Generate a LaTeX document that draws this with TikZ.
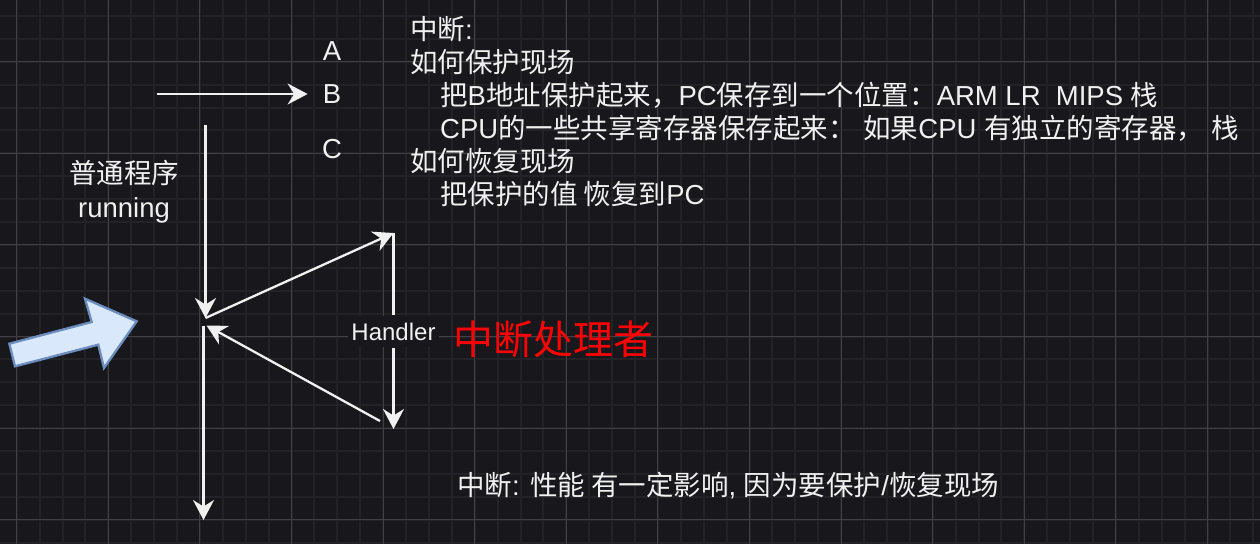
\documentclass[tikz,border=0pt]{standalone}
\usepackage{fontspec}
\setmainfont{Liberation Sans}
\newfontfamily\cjk{Noto Sans CJK SC}
\usetikzlibrary{
    arrows.meta
}
\definecolor{canvas}{HTML}{18171C}
\definecolor{ink}{HTML}{F0F0F0}
\definecolor{minorline}{HTML}{232227}
\definecolor{majorline}{HTML}{404044}
\definecolor{blockfill}{HTML}{DAE8FC}
\definecolor{blockline}{HTML}{6C8EBF}
\tikzset{
    % Grid
    minor grid/.style={draw=minorline, line width=2pt},
    major grid/.style={draw=majorline, line width=1pt},
    %
    % Nodes
    letter/.style={anchor=base, inner sep=0pt},
    note/.style={anchor=base west, inner sep=0pt},
    handler label/.style={fill=canvas, inner xsep=3pt, inner ysep=7pt, font=\fontsize{24}{28.8}\selectfont},
    red title/.style={anchor=base west, inner sep=0pt, text=red, font=\cjk\fontsize{40}{48}\selectfont},
    %
    % Arrows
    arrow tip/.tip={Stealth[length=20pt, width=21pt, inset=6.5pt]},
    arr/.style={->, >={arrow tip}, draw=ink, line width=2.3pt},
    block arrow/.style={fill=blockfill, draw=blockline, line width=2.3pt, line join=miter}
}
\tikzstyle{every node}=[font=\fontsize{27.5}{33}\selectfont, text=ink]

\begin{document}
\begin{tikzpicture}[x=1pt, y=-1pt]
        \useasboundingbox[fill=canvas] (0,0) rectangle (1260,544);
        % grid
        \foreach \i in {0,...,56} \draw[minor grid] ({-6.2+22.9*\i},0) -- +(0,544);
        \foreach \j in {0,...,24} \draw[minor grid] (0,{-7+22.9*\j}) -- +(1260,0);
        \foreach \i in {0,...,13} \draw[major grid] ({16.7+91.6*\i},0) -- +(0,544);
        \foreach \j in {0,...,5} \draw[major grid] (0,{61.7+91.6*\j}) -- +(1260,0);

        % program addresses
        \node[letter] (A) at (332,60) {A};
        \node[letter] (B) at (332,103) {B};
        \node[letter] (C) at (332,158) {C};
        \coordinate (jmp src) at (157,94);
        \draw[arr, shorten >=15pt] (jmp src) -- (jmp src -| B.west);

        \node[align=center, font=\fontsize{27.5}{34}\selectfont] (prog) at (124,192) {{\cjk 普通程序}\\running};

        % running -> handler -> back
        \coordinate (run top) at (205.5,125);
        \coordinate (irq) at (205.5,318);
        \coordinate (h top) at (393.5,233);
        \coordinate (h bot) at (393.5,429);
        \coordinate (ret src) at (380,421);
        \coordinate (ret dst) at (206.5,325.5);
        \coordinate (resume) at (203.5,326);
        \coordinate (run end) at (203.5,520);
        \draw[arr] (run top) -- (irq);
        \draw[arr] (irq) -- (h top);
        \node[handler label] (handler) at (393.5,331.5) {Handler};
        \draw[arr, -] (h top) -- (handler);
        \draw[arr] (handler) -- (h bot);
        \draw[arr] (ret src) -- (ret dst);
        \draw[arr] (resume) -- (run end);
        \node[red title] (handler cn) at (453,354) {中断处理者};

        % interrupt comes in
        \draw[block arrow] (9.3,343.7) -- (91.7,322) -- (85,298.7) -- (136.7,321.3) -- (104,368) -- (98.3,344.7) -- (15,366.3) -- cycle;

        % notes
        \node[note] (intr) at (410,39) {{\cjk 中断}:};
        \node[note] (save hdr) at (410,72) {{\cjk 如何保护现场}};
        \node[note] (save pc) at (440,105) {{\cjk 把}B{\cjk 地址保护起来，}PC{\cjk 保存到一个位置：}ARM LR\ \ MIPS {\cjk 栈}};
        \node[note] (save regs) at (440,138) {CPU{\cjk 的一些共享寄存器保存起来：} {\cjk 如果}CPU {\cjk 有独立的寄存器，} {\cjk 栈}};
        \node[note] (restore hdr) at (410,171) {{\cjk 如何恢复现场}};
        \node[note] (restore pc) at (440,204) {{\cjk 把保护的值 恢复到}PC};
        \node[note] (cost) at (457,495) {{\cjk 中断}: {\cjk 性能 有一定影响}, {\cjk 因为要保护}/{\cjk 恢复现场}};
\end{tikzpicture}
\end{document}
